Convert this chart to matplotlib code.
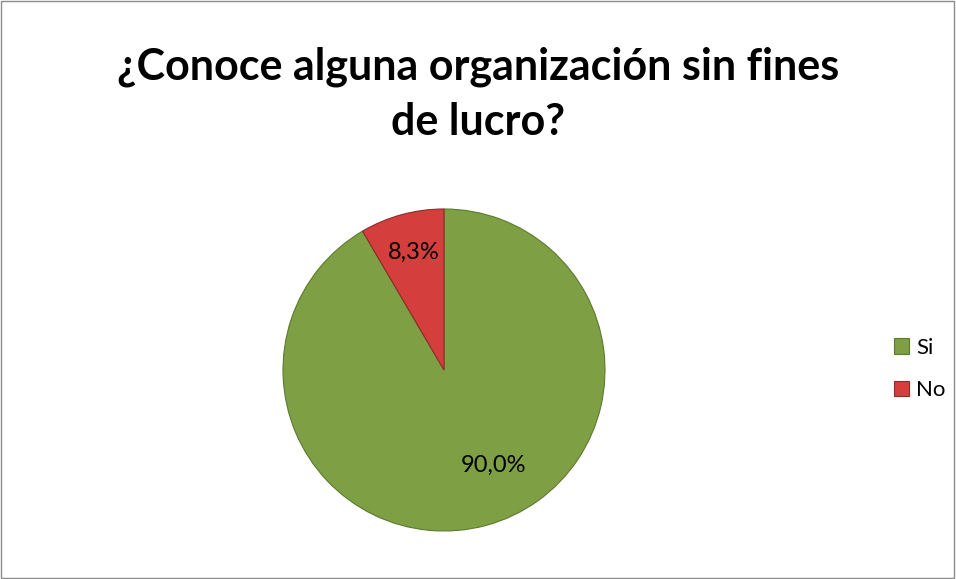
import matplotlib
matplotlib.use("Agg")
import matplotlib.pyplot as plt
from matplotlib.patches import Patch, Rectangle

title = "¿Conoce alguna organización sin fines\nde lucro?"
categories = ["Si", "No"]
values = [90.0, 8.3]
colors = ["#7E9F43", "#D43F3D"]
edge_colors = ["#5E7A2E", "#8E2A28"]

plt.rcParams['font.family'] = ['Lato', 'DejaVu Sans']

fig = plt.figure(figsize=(9.56, 5.79), dpi=100)
fig.patches.append(Rectangle((0.001, 0.001), 0.997, 0.997, transform=fig.transFigure,
                             fill=False, edgecolor="#8C8C8C", linewidth=1.0))

W, H = 956, 579
cx, cy, r = 444, 370, 161
ax = fig.add_axes([(cx - r) / W, (H - cy - r) / H, 2 * r / W, 2 * r / H])
wedges, _ = ax.pie(values, colors=colors, startangle=90, counterclock=False,
                   wedgeprops=dict(linewidth=0.8))
for w, ec in zip(wedges, edge_colors):
    w.set_edgecolor(ec)
ax.set_xlim(-1, 1)
ax.set_ylim(-1, 1)
ax.set_aspect("equal")

def fmt(v):
    return f"{v:.1f}%".replace(".", ",")

label_pos = [(0.31, -0.59), (-0.19, 0.73)]
for (x, y), v in zip(label_pos, values):
    ax.text(x, y, fmt(v), ha="center", va="center", fontsize=17, color="black")

fig.text(0.5, 1 - 135 / H, title, ha="center", va="baseline", fontsize=31,
         fontweight="bold", linespacing=1.45)

handles = [Patch(facecolor=c, edgecolor=e, linewidth=0.8) for c, e in zip(colors, edge_colors)]
fig.legend(handles, categories, loc="center left", bbox_to_anchor=(885 / W, 1 - 369 / H),
           frameon=False, fontsize=16, handlelength=0.7, handleheight=0.7,
           handletextpad=0.3, labelspacing=1.0, borderaxespad=0)

fig.savefig("out.png", dpi=100)
